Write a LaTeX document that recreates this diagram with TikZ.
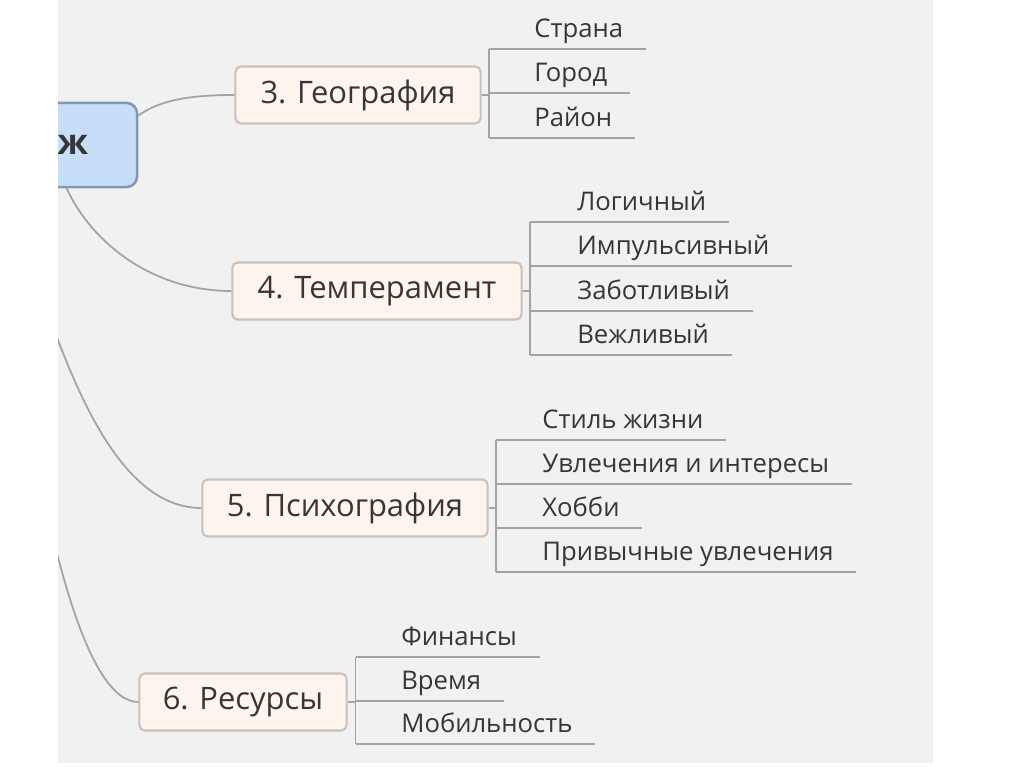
\documentclass[tikz,border=0pt]{standalone}
\usepackage{fontspec}
\setmainfont{Open Sans}
\usetikzlibrary{calc}
\definecolor{panelgray}{HTML}{F1F1F1}
\definecolor{topicfill}{HTML}{FDF4EE}
\definecolor{topicline}{HTML}{C9C1BA}
\definecolor{rootfill}{HTML}{C7DDF8}
\definecolor{rootline}{HTML}{7F98B6}
\definecolor{linkgray}{HTML}{A3A3A3}
\definecolor{inktext}{HTML}{363636}

\begin{document}
\begin{tikzpicture}[x=0.01cm,y=-0.01cm,
	topic/.style={draw=topicline,fill=topicfill,line width=0.6pt,rounded corners=1.5pt,
		minimum height=0.57cm,inner xsep=0pt,text=inktext,font=\fontsize{8.8}{10}\selectfont},
	leaf/.style={anchor=south west,inner sep=0pt,text depth=3pt,text=inktext,font=\fontsize{7.3}{9}\selectfont},
	link/.style={draw=linkgray,line width=0.5pt}]
\useasboundingbox (0,0) rectangle (1024,767);
\fill[panelgray] (58,0) rectangle (933,763);
\clip (58,0) rectangle (933,763);
% root, cut by the left edge
\node[draw=rootline,fill=rootfill,line width=0.7pt,rounded corners=3pt,minimum height=0.84cm,
	inner xsep=0.49cm,text width=1.76cm,align=right,text=inktext,
	font=\fontsize{10}{12}\selectfont\bfseries] (root) at (0,145) {ж};
\node[topic,minimum width=2.45cm] (geo) at (358,95) {3. География};
\node[topic,minimum width=2.89cm] (temp) at (377,291) {4. Темперамент};
\node[topic,minimum width=2.85cm] (psy) at (345,508) {5. Психография};
\node[topic,minimum width=2.07cm] (res) at (243,702) {6. Ресурсы};
\draw[link] (root.12) .. controls (160,100) and (190,95) .. (geo.west);
\draw[link] (root.-33) .. controls (90,240) and (150,291) .. (temp.west);
\draw[link] (root.-80) .. controls (50,320) and (100,508) .. (psy.west);
\draw[link] (root.-95) .. controls (40,560) and (90,702) .. (res.west);
%\draw[link] (root.east) -- (geo.west);
\begin{scope}
	\node[leaf] (g1) at ($(geo.east)+(52,-46)$) {Страна};
	\node[leaf] (g2) at ($(geo.east)+(52,-2)$) {Город};
	\node[leaf] (g3) at ($(geo.east)+(52,43)$) {Район};
	\coordinate (gb) at ($(g1.south west)+(-45,0)$);
	\draw[link] (geo.east) -- (geo.east -| gb);
	\draw[link] (gb) -- (gb |- g3.south);
	\draw[link] (gb) -- ($(g1.south east)+(22,0)$);
	\draw[link] (gb |- g2.south) -- ($(g2.south east)+(22,0)$);
	\draw[link] (gb |- g3.south) -- ($(g3.south east)+(22,0)$);
\end{scope}
\begin{scope}
	\node[leaf] (t1) at ($(temp.east)+(54,-69)$) {Логичный};
	\node[leaf] (t2) at ($(temp.east)+(54,-25)$) {Импульсивный};
	\node[leaf] (t3) at ($(temp.east)+(54,20)$) {Заботливый};
	\node[leaf] (t4) at ($(temp.east)+(54,64)$) {Вежливый};
	\coordinate (tb) at ($(t1.south west)+(-47,0)$);
	\draw[link] (temp.east) -- (temp.east -| tb);
	\draw[link] (tb) -- (tb |- t4.south);
	\draw[link] (tb) -- ($(t1.south east)+(22,0)$);
	\draw[link] (tb |- t2.south) -- ($(t2.south east)+(22,0)$);
	\draw[link] (tb |- t3.south) -- ($(t3.south east)+(22,0)$);
	\draw[link] (tb |- t4.south) -- ($(t4.south east)+(22,0)$);
\end{scope}
\begin{scope}
	\node[leaf] (p1) at ($(psy.east)+(53,-68)$) {Стиль жизни};
	\node[leaf] (p2) at ($(psy.east)+(53,-24)$) {Увлечения и интересы};
	\node[leaf] (p3) at ($(psy.east)+(53,20)$) {Хобби};
	\node[leaf] (p4) at ($(psy.east)+(53,64)$) {Привычные увлечения};
	\coordinate (pb) at ($(p1.south west)+(-46,0)$);
	\draw[link] (psy.east) -- (psy.east -| pb);
	\draw[link] (pb) -- (pb |- p4.south);
	\draw[link] (pb) -- ($(p1.south east)+(22,0)$);
	\draw[link] (pb |- p2.south) -- ($(p2.south east)+(22,0)$);
	\draw[link] (pb |- p3.south) -- ($(p3.south east)+(22,0)$);
	\draw[link] (pb |- p4.south) -- ($(p4.south east)+(22,0)$);
\end{scope}
\begin{scope}
	\node[leaf] (r1) at ($(res.east)+(53,-45)$) {Финансы};
	\node[leaf] (r2) at ($(res.east)+(53,-1)$) {Время};
	\node[leaf] (r3) at ($(res.east)+(53,42)$) {Мобильность};
	\coordinate (rb) at ($(r1.south west)+(-45,0)$);
	\draw[link] (res.east) -- (res.east -| rb);
	\draw[link] (rb) -- (rb |- r3.south);
	\draw[link] (rb) -- ($(r1.south east)+(22,0)$);
	\draw[link] (rb |- r2.south) -- ($(r2.south east)+(22,0)$);
	\draw[link] (rb |- r3.south) -- ($(r3.south east)+(22,0)$);
\end{scope}
\end{tikzpicture}
\end{document}
